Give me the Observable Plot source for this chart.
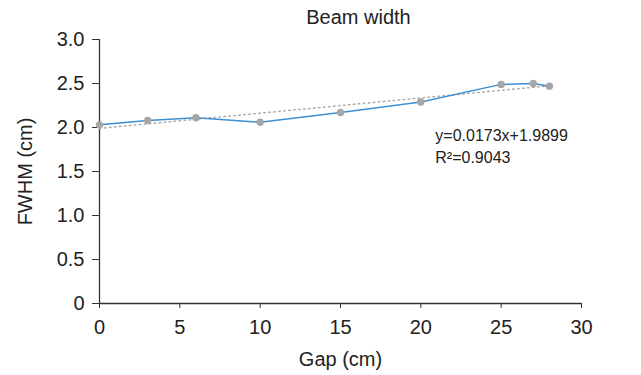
<!DOCTYPE html>
<html>
<head>
<meta charset="utf-8">
<script src="https://cdn.jsdelivr.net/npm/d3@7"></script>
<script src="https://cdn.jsdelivr.net/npm/@observablehq/plot@0.6"></script>
<style>
  html, body { margin: 0; padding: 0; background: #fff; }
  #chart { width: 641px; height: 375px; }
</style>
</head>
<body>
<div id="chart"></div>
<script>
const title = "Beam width";
const xLabel = "Gap (cm)";
const yLabel = "FWHM (cm)";
const gaps = [0, 3, 6, 10, 15, 20, 25, 27, 28];
const fwhm = [2.03, 2.08, 2.11, 2.06, 2.17, 2.29, 2.49, 2.50, 2.47];
const slope = 0.0173;
const intercept = 1.9899;
const eqLines = ["y=0.0173x+1.9899", "R\u00B2=0.9043"];
const eqPos = {x: 20.9, y: [1.91, 1.65]};
const xTicks = [0, 5, 10, 15, 20, 25, 30];
const yTicks = [0, 0.5, 1.0, 1.5, 2.0, 2.5, 3.0];

const data = gaps.map((g, i) => ({x: g, y: fwhm[i]}));
const trend = [0, gaps[gaps.length - 1]].map(x => ({x, y: slope * x + intercept}));
const eq = eqLines.map((t, i) => ({t, x: eqPos.x, y: eqPos.y[i]}));

const font = "'Liberation Sans', Arial, Helvetica, sans-serif";
const plot = Plot.plot({
  width: 641,
  height: 375,
  marginLeft: 99,
  marginRight: 60,
  marginTop: 39,
  marginBottom: 72,
  style: {fontFamily: font, color: "#222", background: "#fff", overflow: "visible"},
  x: {domain: [0, 30]},
  y: {domain: [0, 3]},
  marks: [
    Plot.axisX({ticks: xTicks, tickSize: 5, tickPadding: 11, fontSize: 20, label: null, stroke: "#333"}),
    Plot.axisY({ticks: yTicks, tickSize: 7, tickPadding: 8, fontSize: 20, label: null, stroke: "#333",
      tickFormat: d => d === 0 ? "0" : d.toFixed(1)}),
    Plot.ruleX([0], {stroke: "#333", strokeWidth: 1.3}),
    Plot.ruleY([0], {stroke: "#333", strokeWidth: 1.3}),
    Plot.text([xLabel], {frameAnchor: "bottom", dy: 62, fontSize: 20, fill: "#222"}),
    Plot.text([yLabel], {frameAnchor: "left", dx: -74, rotate: -90, textAnchor: "middle", fontSize: 20, fill: "#222"}),
    Plot.text([title], {frameAnchor: "top", dx: 18, dy: -30, fontSize: 20, fill: "#222"}),
    Plot.line(trend, {x: "x", y: "y", stroke: "#aaa", strokeWidth: 1.5, strokeDasharray: "1.5,3.5"}),
    Plot.line(data, {x: "x", y: "y", stroke: "#3b8fd4", strokeWidth: 1.5}),
    Plot.dot(data, {x: "x", y: "y", r: 3.7, fill: "#a6a6a6", stroke: "none"}),
    Plot.text(eq, {x: "x", y: "y", text: "t", textAnchor: "start", fontSize: 16, fill: "#222"})
  ]
});
document.getElementById("chart").append(plot);
</script>
</body>
</html>
